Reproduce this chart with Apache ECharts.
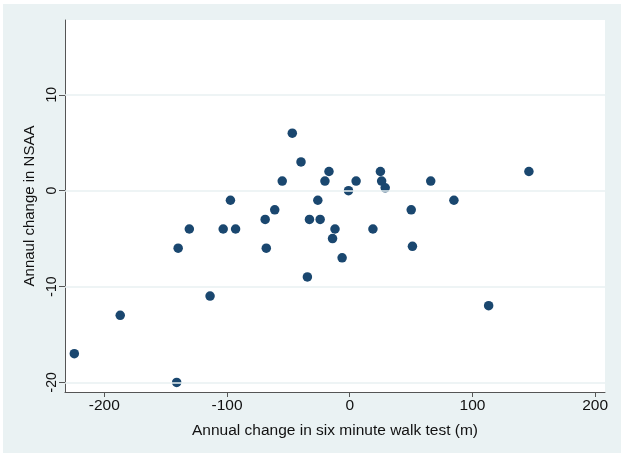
<!DOCTYPE html>
<html>
<head>
<meta charset="utf-8">
<script src="https://cdn.jsdelivr.net/npm/echarts@6/dist/echarts.min.js"></script>
<style>
html,body{margin:0;padding:0;background:#ffffff;}
#chart{width:625px;height:458px;}
</style>
</head>
<body>
<div id="chart"></div>
<script>
// Annual change in six minute walk test (m)
const walkChange = [-224.4, -187, -141, -139.8, -130.7, -113.8, -103.1, -97.2, -93, -68.9, -68, -61.1, -55, -46.8, -39.7, -34.5, -32.8, -26, -24.1, -20.2, -16.9, -14, -12, -6.2, -1, 5.2, 18.9, 25, 26, 28.9, 50.1, 51.1, 66, 84.9, 113.2, 146];
// Annual change in NSAA
const nsaaChange = [-17, -13, -20, -6, -4, -11, -4, -1, -4, -3, -6, -2, 1, 6, 3, -9, -3, -1, -3, 1, 2, -5, -4, -7, 0, 1, -4, 2, 1, 0.3, -2, -5.8, 1, -1, -12, 2];
const xTicks = [-200, -100, 0, 100, 200];
const yTicks = [-20, -10, 0, 10];
const xTitle = 'Annual change in six minute walk test (m)';
const yTitle = 'Annaul change in NSAA';

const points = walkChange.map((x, i) => [x, nsaaChange[i]]);
const font = 'Liberation Sans, Arial, sans-serif';

const chart = echarts.init(document.getElementById('chart'), null, {renderer: 'canvas'});
chart.setOption({
  animation: false,
  backgroundColor: '#ffffff',
  graphic: [{
    type: 'rect', z: -10, silent: true,
    shape: {x: 3, y: 4, width: 618, height: 449},
    style: {fill: '#eaf2f3'}
  }],
  grid: {
    left: 65, top: 20, right: 20, bottom: 66,
    show: true, backgroundColor: '#ffffff', borderWidth: 0
  },
  xAxis: {
    type: 'value', min: -232, max: 208,
    name: xTitle, nameLocation: 'middle', nameGap: 31,
    nameTextStyle: {fontFamily: font, fontSize: 15.5, color: '#111'},
    axisLine: {show: true, onZero: false, lineStyle: {color: '#555', width: 1}},
    axisTick: {show: true, length: 5, customValues: xTicks, lineStyle: {color: '#555'}},
    axisLabel: {customValues: xTicks, fontFamily: font, fontSize: 15.5, color: '#111', margin: 6},
    splitLine: {show: false}
  },
  yAxis: {
    type: 'value', min: -21, max: 17.8,
    name: yTitle, nameLocation: 'middle', nameGap: 26, nameRotate: 90,
    nameTextStyle: {fontFamily: font, fontSize: 15, color: '#111'},
    axisLine: {show: true, onZero: false, lineStyle: {color: '#555', width: 1}},
    axisTick: {show: true, length: 6, customValues: yTicks, lineStyle: {color: '#555'}},
    axisLabel: {customValues: yTicks, rotate: 90, fontFamily: font, fontSize: 14, color: '#111', margin: 6},
    splitLine: {show: false}
  },
  series: [
    {
      type: 'scatter', data: [], z: 1, silent: true,
      markLine: {
        silent: true, symbol: 'none', animation: false,
        label: {show: false},
        lineStyle: {color: '#e8f0f2', width: 1.5, type: 'solid'},
        data: yTicks.map(v => ({yAxis: v}))
      }
    },
    {
      type: 'scatter', z: 3,
      data: points,
      symbol: 'circle', symbolSize: 9.5,
      itemStyle: {color: '#1a476f', opacity: 1}
    }
  ]
});
</script>
</body>
</html>
